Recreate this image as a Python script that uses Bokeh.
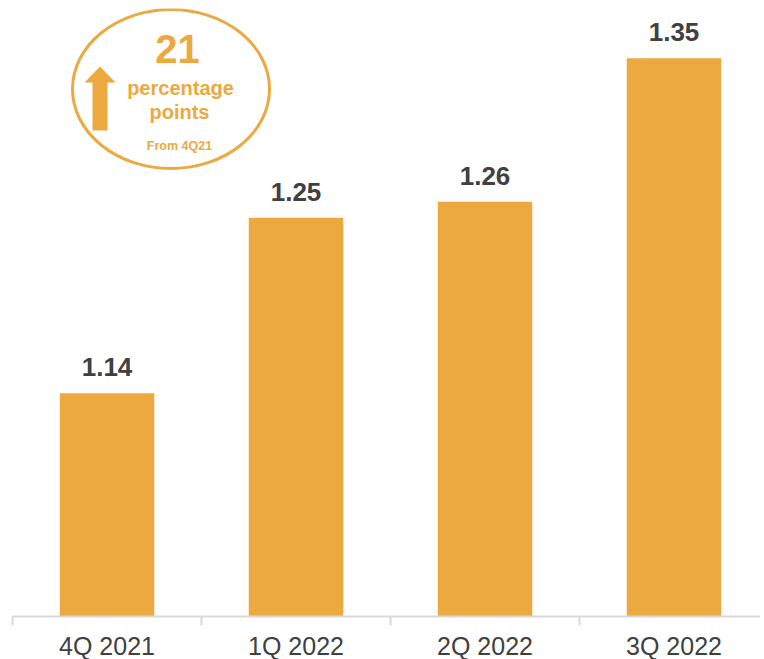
from bokeh.plotting import figure
from bokeh.models import Range1d, FixedTicker
from bokeh.core.properties import value
from bokeh.embed import file_html
from bokeh.resources import INLINE

# ---- data ----
quarters = ["4Q 2021", "1Q 2022", "2Q 2022", "3Q 2022"]
ratios = [1.14, 1.25, 1.26, 1.35]
value_labels = ["1.14", "1.25", "1.26", "1.35"]
callout_number = "21"
callout_lines = ["percentage", "points"]
callout_note = "From 4Q21"

# ---- style ----
BAR = "#ECA940"
TEXT = "#404040"
AXIS = "#D9D9D9"
FONT = "Liberation Sans"

FRAME_W, FRAME_H = 748, 608
CAT_PX = 189.0
PX_PER_UNIT = 1595.0
Y0 = 1.0
Y1 = Y0 + FRAME_H / PX_PER_UNIT
X1 = FRAME_W / CAT_PX
FRAME_LEFT_ABS = 12.0
FRAME_BOTTOM_ABS = 8.0 + FRAME_H


def dx(px):
    return (px - FRAME_LEFT_ABS) / CAT_PX


def dy(py):
    return Y0 + (FRAME_BOTTOM_ABS - py) / PX_PER_UNIT


centers = [i + 0.5 for i in range(len(quarters))]
bounds = [float(i) for i in range(len(quarters))]

p = figure(
    frame_width=FRAME_W, frame_height=FRAME_H,
    x_range=Range1d(0, X1), y_range=Range1d(Y0, Y1),
    output_backend="svg", toolbar_location=None,
    y_axis_location=None,
    min_border_left=12, min_border_right=0, min_border_top=8, min_border_bottom=0,
)
p.background_fill_color = "white"
p.border_fill_color = "white"
p.outline_line_color = None
p.xgrid.visible = False
p.ygrid.visible = False

p.xaxis.ticker = FixedTicker(ticks=centers, minor_ticks=bounds)
p.xaxis.major_label_overrides = {c: q for c, q in zip(centers, quarters)}
p.xaxis.axis_line_color = AXIS
p.xaxis.axis_line_width = 2
p.xaxis.major_tick_in = 0
p.xaxis.major_tick_out = 0
p.xaxis.major_tick_line_color = None
p.xaxis.minor_tick_in = 0
p.xaxis.minor_tick_out = 9
p.xaxis.minor_tick_line_color = AXIS
p.xaxis.minor_tick_line_width = 2
p.xaxis.major_label_standoff = 6
p.xaxis.major_label_text_font = FONT
p.xaxis.major_label_text_font_size = "25px"
p.xaxis.major_label_text_color = TEXT

p.vbar(x=centers, top=ratios, bottom=Y0, width=0.5, fill_color=BAR, line_color=None)

p.text(x=centers, y=ratios, text=value_labels, y_offset=-26,
       text_align="center", text_baseline="middle",
       text_font=value(FONT), text_font_style="bold", text_font_size="26px",
       text_color=TEXT)

# ---- callout ----
p.ellipse(x=[dx(170.5)], y=[dy(88.5)], width=197, height=159,
          width_units="screen", height_units="screen",
          fill_color=None, line_color=BAR, line_width=3)

arrow_px = [(99.5, 66), (115, 82), (107, 82), (107, 130), (92, 130), (92, 82), (84, 82)]
p.patch(x=[dx(a) for a, b in arrow_px], y=[dy(b) for a, b in arrow_px],
        fill_color=BAR, line_color=None)

p.text(x=[dx(177)], y=[dy(48.5)], text=[callout_number], text_align="center",
       text_baseline="middle", text_font=value(FONT), text_font_style="bold",
       text_font_size="40px", text_color=BAR)
p.text(x=[dx(180), dx(179)], y=[dy(87), dy(111)], text=callout_lines,
       text_align="center", text_baseline="middle", text_font=value(FONT),
       text_font_style="bold", text_font_size="20px", text_color=BAR)
p.text(x=[dx(179)], y=[dy(145.5)], text=[callout_note], text_align="center",
       text_baseline="middle", text_font=value(FONT), text_font_style="bold",
       text_font_size="12.5px", text_color=BAR)

open("out.html", "w").write(file_html(p, INLINE))
